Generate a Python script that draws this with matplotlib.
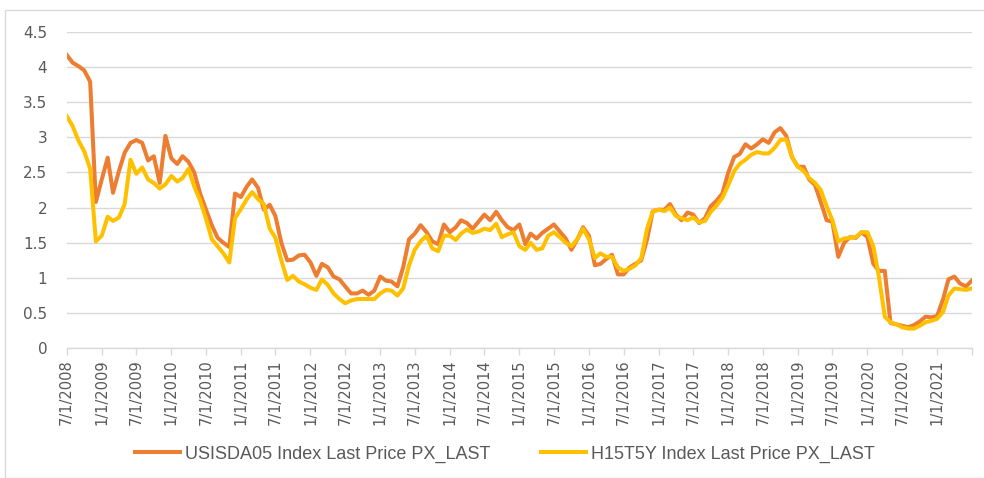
import matplotlib
matplotlib.use("Agg")
import matplotlib.pyplot as plt
import pandas as pd
from matplotlib.patches import Rectangle

# monthly values, starting July 2008
usisda05 = [
    4.17, 4.06, 4.01, 3.95, 3.79, 2.08, 2.40, 2.71, 2.21, 2.52, 2.78, 2.92,
    2.96, 2.92, 2.67, 2.73, 2.35, 3.02, 2.70, 2.62, 2.73, 2.65, 2.50, 2.20,
    1.98, 1.75, 1.57, 1.50, 1.44, 2.20, 2.15, 2.30, 2.40, 2.28, 1.97, 2.04,
    1.88, 1.50, 1.25, 1.26, 1.32, 1.33, 1.22, 1.03, 1.20, 1.15, 1.02, 0.98,
    0.88, 0.78, 0.78, 0.82, 0.76, 0.82, 1.02, 0.96, 0.95, 0.88, 1.15, 1.55,
    1.63, 1.75, 1.65, 1.52, 1.48, 1.76, 1.65, 1.72, 1.82, 1.78, 1.70, 1.80,
    1.90, 1.82, 1.94, 1.82, 1.72, 1.68, 1.76, 1.48, 1.63, 1.56, 1.64, 1.70,
    1.76, 1.66, 1.56, 1.40, 1.55, 1.72, 1.60, 1.18, 1.20, 1.27, 1.33, 1.05,
    1.05, 1.15, 1.20, 1.25, 1.55, 1.95, 1.97, 1.97, 2.05, 1.90, 1.82, 1.93,
    1.90, 1.78, 1.85, 2.02, 2.10, 2.20, 2.50, 2.72, 2.76, 2.90, 2.84, 2.90,
    2.97, 2.92, 3.07, 3.13, 3.02, 2.72, 2.58, 2.58, 2.40, 2.32, 2.08, 1.82,
    1.80, 1.30, 1.50, 1.58, 1.57, 1.65, 1.58, 1.20, 1.10, 1.10, 0.36, 0.34,
    0.32, 0.30, 0.33, 0.38, 0.45, 0.44, 0.46, 0.70, 0.98, 1.02, 0.92, 0.88,
    0.96,
]
h15t5y = [
    3.30, 3.16, 2.95, 2.80, 2.55, 1.52, 1.60, 1.87, 1.81, 1.86, 2.05, 2.68,
    2.48, 2.57, 2.40, 2.35, 2.27, 2.33, 2.45, 2.37, 2.42, 2.55, 2.30, 2.10,
    1.85, 1.55, 1.45, 1.35, 1.22, 1.85, 1.98, 2.12, 2.22, 2.12, 2.05, 1.70,
    1.57, 1.25, 0.97, 1.03, 0.95, 0.91, 0.86, 0.83, 0.98, 0.90, 0.78, 0.70,
    0.64, 0.68, 0.70, 0.70, 0.70, 0.70, 0.78, 0.83, 0.82, 0.75, 0.85, 1.18,
    1.40, 1.52, 1.60, 1.42, 1.38, 1.60, 1.60, 1.54, 1.63, 1.69, 1.64, 1.66,
    1.70, 1.68, 1.77, 1.58, 1.62, 1.65, 1.45, 1.40, 1.50, 1.40, 1.42, 1.60,
    1.65, 1.58, 1.50, 1.45, 1.55, 1.70, 1.55, 1.28, 1.35, 1.30, 1.30, 1.15,
    1.10, 1.13, 1.18, 1.28, 1.70, 1.95, 1.97, 1.95, 2.00, 1.88, 1.85, 1.82,
    1.86, 1.79, 1.81, 1.94, 2.03, 2.14, 2.32, 2.52, 2.62, 2.68, 2.75, 2.79,
    2.77, 2.77, 2.85, 2.96, 2.97, 2.72, 2.58, 2.52, 2.42, 2.35, 2.25, 2.02,
    1.82, 1.52, 1.56, 1.57, 1.58, 1.65, 1.65, 1.45, 1.02, 0.45, 0.37, 0.34,
    0.30, 0.28, 0.28, 0.32, 0.37, 0.39, 0.42, 0.52, 0.75, 0.85, 0.84, 0.83,
    0.85,
]
series_names = ["USISDA05 Index Last Price PX_LAST", "H15T5Y Index Last Price PX_LAST"]
yticks = [0, 0.5, 1, 1.5, 2, 2.5, 3, 3.5, 4, 4.5]

dates = pd.date_range("2008-07-01", periods=len(usisda05), freq="MS")
tick_dates = dates[::6]

grid_c = "#D9D9D9"
text_c = "#595959"

fig = plt.figure(figsize=(9.84, 4.78), dpi=100)
fig.patches.append(Rectangle((5 / 984, 0), 1, 1 - 10 / 478, transform=fig.transFigure,
                             fill=False, edgecolor=grid_c, linewidth=1))
ax = fig.add_axes([66.7 / 984, 1 - 348.3 / 478, (971.7 - 66.7) / 984, (348.3 - 31.7) / 478])

ax.plot(dates, usisda05, color="#ED7D31", linewidth=2.9, label=series_names[0],
        solid_joinstyle="round")
ax.plot(dates, h15t5y, color="#FFC000", linewidth=2.9, label=series_names[1],
        solid_joinstyle="round")

ax.set_ylim(0, 4.5)
ax.set_yticks(yticks)
ax.set_yticklabels([f"{v:g}" for v in yticks])
ax.set_xlim(dates[0], dates[-1])
ax.set_xticks(tick_dates)
labels = [f"{d.month}/{d.day}/{d.year}" for d in tick_dates]
labels[-1] = ""
ax.set_xticklabels(labels, rotation=90, ha="center", va="top")

ax.grid(axis="y", color=grid_c, linewidth=1)
ax.set_axisbelow(True)
for s in ["left", "right", "top"]:
    ax.spines[s].set_visible(False)
ax.spines["bottom"].set_color(grid_c)
ax.spines["bottom"].set_linewidth(1)
ax.tick_params(axis="x", colors=grid_c, length=5, width=1, labelcolor=text_c,
               labelsize=10.5, pad=3)
ax.tick_params(axis="y", length=0, labelcolor=text_c, labelsize=11, pad=14)

leg = fig.legend(loc="center", bbox_to_anchor=(505 / 984, 1 - 454 / 478), ncol=2,
                 frameon=False, handlelength=2.5, columnspacing=2.8, handletextpad=0.28,
                 prop={"family": "Liberation Sans", "size": 13})
for t in leg.get_texts():
    t.set_color(text_c)

fig.savefig("out.png", dpi=100)
